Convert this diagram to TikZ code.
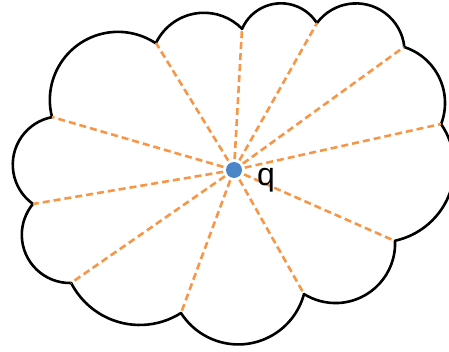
\documentclass[tikz,border=0pt]{standalone}
\usepackage{fontspec}
\setmainfont{Liberation Sans}
\usetikzlibrary{calc}
\definecolor{rayorange}{HTML}{F79646}
\definecolor{dotblue}{HTML}{4A86C8}
\newcommand\cloudarc[3]{let \p1=($(#1)-(#3)$), \p2=($(#2)-(#3)$), \n1={atan2(\y1,\x1)}, \n2={atan2(\y2,\x2)}, \n3={veclen(\x1,\y1)}, \n4={\n2-360*(\n2>\n1)} in arc[start angle=\n1, end angle=\n4, radius=\n3] -- (#2)}
\tikzset{
  outline/.style={draw=black, line width=2.6pt, line join=round, line cap=round},
  ray/.style={draw=rayorange, line width=2.6pt, dash pattern=on 7pt off 4pt},
  dot/.style={circle, fill=dotblue, minimum size=16pt, inner sep=0pt},
  lbl/.style={font=\fontsize{32}{32}\selectfont, anchor=base west, inner sep=0pt}
}
\begin{document}
\begin{tikzpicture}[x=1pt,y=1pt]
\useasboundingbox (0,0) rectangle (449,351);
\clip (0,0) rectangle (449,351);
% cusps
\coordinate (P1) at (52,234);
\coordinate (P2) at (156,308);
\coordinate (P3) at (242,322);
\coordinate (P4) at (317,328);
\coordinate (P5) at (404,304);
\coordinate (P6) at (441,227);
\coordinate (P7) at (395,110);
\coordinate (P8) at (304,57);
\coordinate (P9) at (181,38);
\coordinate (P10) at (71,68);
\coordinate (P11) at (33,147);
% centres of the bumps
\coordinate (C1) at (118,251);
\coordinate (C2) at (204,285);
\coordinate (C3) at (281,305.2);
\coordinate (C4) at (356,299);
\coordinate (C5) at (386.3,248);
\coordinate (C6) at (379,184);
\coordinate (C7) at (335.5,107.5);
\coordinate (C8) at (238.3,74.6);
\coordinate (C9) at (139.7,103.1);
\coordinate (C10) at (70,116.2);
\coordinate (C11) at (61.2,186.4);
\coordinate (Q) at (234,181);
\draw[outline] (P1)
  \cloudarc{P1}{P2}{C1}
  \cloudarc{P2}{P3}{C2}
  \cloudarc{P3}{P4}{C3}
  \cloudarc{P4}{P5}{C4}
  \cloudarc{P5}{P6}{C5}
  \cloudarc{P6}{P7}{C6}
  \cloudarc{P7}{P8}{C7}
  \cloudarc{P8}{P9}{C8}
  \cloudarc{P9}{P10}{C9}
  \cloudarc{P10}{P11}{C10}
  \cloudarc{P11}{P1}{C11} -- cycle;
\foreach \k in {1,...,11} \draw[ray] (Q) -- (P\k);
\node[dot] (q) at (Q) {};
\node[lbl] (qlabel) at (257,166) {q};
\end{tikzpicture}
\end{document}
